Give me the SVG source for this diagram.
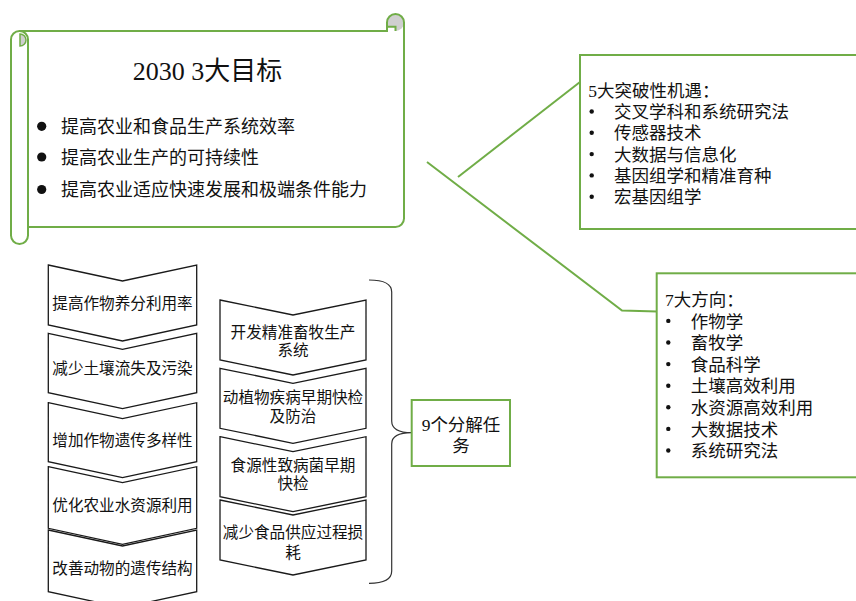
<svg xmlns="http://www.w3.org/2000/svg" width="856" height="601" viewBox="0 0 856 601">
<defs>
<style>
.g{fill:none;stroke:#70AD47;stroke-width:2}
.box{fill:#fff;stroke:#70AD47;stroke-width:2}
.chev{fill:#fff;stroke:#1a1a1a;stroke-width:1.3;stroke-linejoin:miter}
.t{font-family:"Liberation Serif","Noto Sans CJK SC",serif;fill:#111}
.c{font-size:15.6px;text-anchor:middle}
.m{font-size:17.5px}
.dot{fill:#111}
</style>
</defs>
<rect width="856" height="601" fill="#fff"/>

<g id="connectors">
<polyline class="g" points="427,162 622,310.5 657,311.5"/>
<line class="g" x1="458" y1="177" x2="580" y2="82"/>
<path d="M369 280 Q391.7 280 391.7 292 L391.7 421 Q391.7 432.7 411.7 432.7 Q391.7 432.7 391.7 444 L391.7 571 Q391.7 583.3 369 583.3" fill="none" stroke="#333" stroke-width="1.2"/>
</g>

<g id="goals">
<path d="M11 39.5 A8.5 8.5 0 0 1 19.5 31 L387 31 L387 22.5 A8.5 8.5 0 0 1 404 22.5 L404 218.5 A8.5 8.5 0 0 1 395.5 227 L28 227 L28 235.5 A8.5 8.5 0 0 1 11 235.5 Z" fill="#fff"/>
<circle cx="395.5" cy="22.5" r="8.5" fill="#CFCFCF"/>
<rect x="387" y="26.75" width="8.5" height="4.25" fill="#fff"/>
<path d="M20 34 A6 6 0 0 1 20 46 Z" fill="#CFCFCF" stroke="#70AD47" stroke-width="1.5"/>
<path class="g" d="M11 39.5 A8.5 8.5 0 0 1 19.5 31 L387 31 L387 22.5 A8.5 8.5 0 0 1 404 22.5 L404 218.5 A8.5 8.5 0 0 1 395.5 227 L28 227 L28 235.5 A8.5 8.5 0 0 1 11 235.5 Z"/>
<path class="g" d="M19.5 31 A8.5 8.5 0 0 1 28 39.5 L28 227"/>
<path class="g" d="M387 26.75 L395.5 26.75 L395.5 31"/>
<text class="t" x="207.5" y="80" font-size="26" text-anchor="middle">2030 3大目标</text>
<circle class="dot" cx="41.7" cy="126.3" r="4.6"/>
<circle class="dot" cx="41.7" cy="157" r="4.6"/>
<circle class="dot" cx="41.7" cy="189.5" r="4.6"/>
<text class="t" x="61" y="133" font-size="18">提高农业和食品生产系统效率</text>
<text class="t" x="61" y="164" font-size="18">提高农业生产的可持续性</text>
<text class="t" x="61" y="196" font-size="18">提高农业适应快速发展和极端条件能力</text>
</g>

<g id="opportunities">
<rect class="box" x="580" y="55" width="290" height="174"/>
<text class="t m" x="588.3" y="96.6">5大突破性机遇：</text>
<circle class="dot" cx="591.7" cy="111.5" r="2.2"/>
<circle class="dot" cx="591.7" cy="132.8" r="2.2"/>
<circle class="dot" cx="591.7" cy="154.1" r="2.2"/>
<circle class="dot" cx="591.7" cy="175.4" r="2.2"/>
<circle class="dot" cx="591.7" cy="196.7" r="2.2"/>
<text class="t m" x="614" y="118">交叉学科和系统研究法</text>
<text class="t m" x="614" y="139.3">传感器技术</text>
<text class="t m" x="614" y="160.6">大数据与信息化</text>
<text class="t m" x="614" y="181.9">基因组学和精准育种</text>
<text class="t m" x="614" y="203.2">宏基因组学</text>
</g>

<g id="directions">
<rect class="box" x="656.7" y="273.3" width="215" height="204"/>
<text class="t m" x="665" y="306">7大方向：</text>
<circle class="dot" cx="668.3" cy="320.9" r="2.2"/>
<circle class="dot" cx="668.3" cy="342.5" r="2.2"/>
<circle class="dot" cx="668.3" cy="364.1" r="2.2"/>
<circle class="dot" cx="668.3" cy="385.7" r="2.2"/>
<circle class="dot" cx="668.3" cy="407.3" r="2.2"/>
<circle class="dot" cx="668.3" cy="428.9" r="2.2"/>
<circle class="dot" cx="668.3" cy="450.5" r="2.2"/>
<text class="t m" x="690.7" y="327.5">作物学</text>
<text class="t m" x="690.7" y="349.1">畜牧学</text>
<text class="t m" x="690.7" y="370.7">食品科学</text>
<text class="t m" x="690.7" y="392.3">土壤高效利用</text>
<text class="t m" x="690.7" y="413.9">水资源高效利用</text>
<text class="t m" x="690.7" y="435.5">大数据技术</text>
<text class="t m" x="690.7" y="457.1">系统研究法</text>
</g>

<g id="tasks">
<rect class="box" x="411.7" y="400" width="98.3" height="66"/>
<text class="t m" x="461" y="430.6" text-anchor="middle">9个分解任</text>
<text class="t m" x="461" y="451.6" text-anchor="middle">务</text>
</g>

<g id="task1">
<polygon class="chev" points="48.3,265 122.5,281 196.7,265 196.7,325 122.5,341 48.3,325"/>
<text class="t c" x="122.5" y="309.2">提高作物养分利用率</text>
</g>
<g id="task2">
<polygon class="chev" points="48.3,333.3 122.5,349.3 196.7,333.3 196.7,392.7 122.5,408.7 48.3,392.7"/>
<text class="t c" x="122.5" y="374.2">减少土壤流失及污染</text>
</g>
<g id="task3">
<polygon class="chev" points="48.3,402.7 122.5,418.7 196.7,402.7 196.7,461.7 122.5,477.7 48.3,461.7"/>
<text class="t c" x="122.5" y="445.9">增加作物遗传多样性</text>
</g>
<g id="task4">
<polygon class="chev" points="48.3,466.7 122.5,482.7 196.7,466.7 196.7,528.3 122.5,544.3 48.3,528.3"/>
<text class="t c" x="122.5" y="510.9">优化农业水资源利用</text>
</g>
<g id="task5">
<polygon class="chev" points="48.3,530 122.5,546 196.7,530 196.7,591.7 122.5,607.7 48.3,591.7"/>
<text class="t c" x="122.5" y="574.2">改善动物的遗传结构</text>
</g>

<g id="task6">
<polygon class="chev" points="220,300 293,315 366,300 366,360 293,375 220,360"/>
<text class="t c" x="293" y="337.6">开发精准畜牧生产</text>
<text class="t c" x="293" y="355.9">系统</text>
</g>
<g id="task7">
<polygon class="chev" points="220,368.3 293,383.3 366,368.3 366,428.3 293,443.3 220,428.3"/>
<text class="t c" x="293" y="402.6">动植物疾病早期快检</text>
<text class="t c" x="293" y="421.9">及防治</text>
</g>
<g id="task8">
<polygon class="chev" points="220,436.7 293,451.7 366,436.7 366,496.7 293,511.7 220,496.7"/>
<text class="t c" x="293" y="470.9">食源性致病菌早期</text>
<text class="t c" x="293" y="489.2">快检</text>
</g>
<g id="task9">
<polygon class="chev" points="220,500 293,515 366,500 366,560 293,575 220,560"/>
<text class="t c" x="293" y="537.6">减少食品供应过程损</text>
<text class="t c" x="293" y="557.6">耗</text>
</g>
</svg>
